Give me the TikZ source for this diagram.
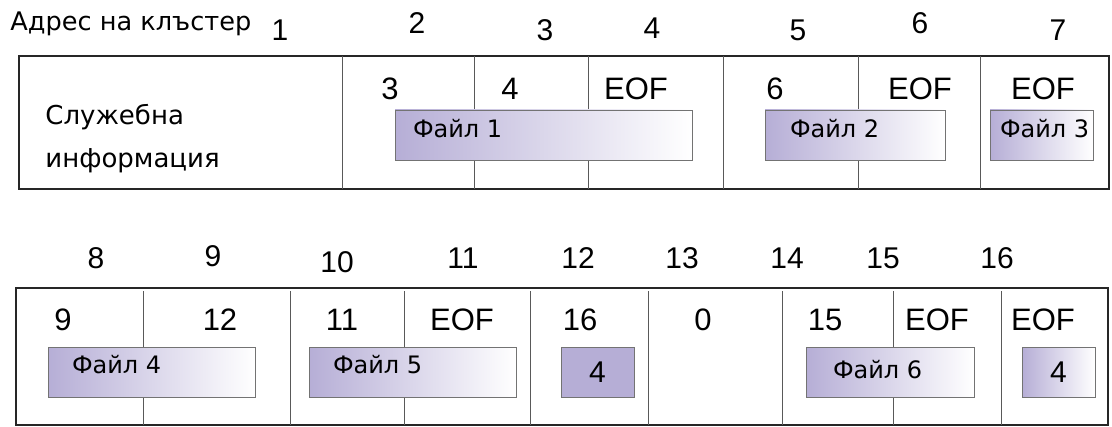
\documentclass[tikz,border=0pt]{standalone}
\usepackage{fontspec}
\setmainfont{Liberation Sans}
\newfontfamily\cyrfont{DejaVu Sans}
\usepackage{tikz}
\usetikzlibrary{positioning}
\definecolor{lavender}{RGB}{182,174,214}
\tikzstyle{frame}=[draw=black!85,line width=1pt]
\tikzstyle{divider}=[draw=black!65,line width=0.5pt]
\tikzstyle{addr}=[font=\fontsize{15}{17}\selectfont,inner sep=0pt]
\tikzstyle{link}=[font=\fontsize{15.5}{18}\selectfont,inner sep=0pt]
\tikzstyle{file box}=[draw=black!55,line width=0.4pt,left color=lavender,right color=white,minimum height=25pt,inner sep=0pt]
\tikzstyle{plain box}=[draw=black!55,line width=0.4pt,fill=lavender,minimum height=25pt,inner sep=0pt]
\tikzstyle{file name}=[font=\cyrfont\fontsize{12}{14}\selectfont,inner sep=0pt,anchor=west]

\begin{document}
\begin{tikzpicture}[x=0.5pt,y=-0.5pt]
        \useasboundingbox (0,0) rectangle (1112,427);
        % cluster addresses, first table
        \node[font=\cyrfont\fontsize{12.8}{15}\selectfont,anchor=west,inner sep=0pt] (title) at (10,24) {Адрес на клъстер};
        \node[addr] (a1) at (280,30) {1};
        \node[addr] (a2) at (417,23) {2};
        \node[addr] (a3) at (545,30) {3};
        \node[addr] (a4) at (652,28) {4};
        \node[addr] (a5) at (798,30) {5};
        \node[addr] (a6) at (920,23) {6};
        \node[addr] (a7) at (1058,30) {7};
        % first table
        \draw[frame] (19,56) rectangle (1109,189);
        \draw[divider] (342,56) -- (342,189);
        \draw[divider] (474,56) -- (474,189);
        \draw[divider] (588,56) -- (588,189);
        \draw[divider] (723,56) -- (723,189);
        \draw[divider] (858,56) -- (858,189);
        \draw[divider] (980,56) -- (980,189);
        \node[font=\cyrfont\fontsize{13}{21.5}\selectfont,align=left,anchor=west,inner sep=0pt] (sys) at (45,139) {Служебна\\информация};
        \node[link] (l2) at (390,89) {3};
        \node[link] (l3) at (510,89) {4};
        \node[link] (l4) at (636,89) {EOF};
        \node[link] (l5) at (775,89) {6};
        \node[link] (l6) at (920,89) {EOF};
        \node[link] (l7) at (1043,89) {EOF};
        \node[file box,minimum width=148.5pt] (f1) at (543.5,135) {};
        \node[file name] at ([xshift=9pt,yshift=3pt]f1.west) {Файл 1};
        \node[file box,minimum width=90pt] (f2) at (855,135) {};
        \node[file name] at ([xshift=12.5pt,yshift=3pt]f2.west) {Файл 2};
        \node[file box,minimum width=51.5pt] (f3) at (1041.5,135) {};
        \node[file name] at ([xshift=5pt,yshift=3pt]f3.west) {Файл 3};
        % cluster addresses, second table
        \node[addr] (a8) at (96,258) {8};
        \node[addr] (a9) at (213,256) {9};
        \node[addr] (a10) at (337,262) {10};
        \node[addr] (a11) at (463,258) {11};
        \node[addr] (a12) at (578,258) {12};
        \node[addr] (a13) at (682,258) {13};
        \node[addr] (a14) at (787,258) {14};
        \node[addr] (a15) at (883,258) {15};
        \node[addr] (a16) at (997,258) {16};
        % second table
        \draw[frame] (16,288) rectangle (1108,425);
        \draw[divider] (143,291) -- (143,425);
        \draw[divider] (290,291) -- (290,425);
        \draw[divider] (404,291) -- (404,425);
        \draw[divider] (530,291) -- (530,425);
        \draw[divider] (648,291) -- (648,425);
        \draw[divider] (782,291) -- (782,425);
        \draw[divider] (893,291) -- (893,425);
        \draw[divider] (1001,291) -- (1001,425);
        \node[link] (l8) at (63,320) {9};
        \node[link] (l9) at (220,320) {12};
        \node[link] (l10) at (342,320) {11};
        \node[link] (l11) at (462,320) {EOF};
        \node[link] (l12) at (580,320) {16};
        \node[link] (l13) at (703,320) {0};
        \node[link] (l14) at (825,320) {15};
        \node[link] (l15) at (937,320) {EOF};
        \node[link] (l16) at (1043,320) {EOF};
        \node[file box,minimum width=103.5pt] (f4) at (151.5,372) {};
        \node[file name] at ([xshift=12pt,yshift=3.5pt]f4.west) {Файл 4};
        \node[file box,minimum width=103.5pt] (f5) at (412.5,372) {};
        \node[file name] at ([xshift=12pt,yshift=3.5pt]f5.west) {Файл 5};
        \node[plain box,minimum width=36.5pt,font=\fontsize{15}{17}\selectfont] (b12) at (597.5,372) {4};
        \node[file box,minimum width=84pt] (f6) at (890,372) {};
        \node[file name] at ([xshift=13.5pt,yshift=1pt]f6.west) {Файл 6};
        \node[file box,minimum width=36.5pt,font=\fontsize{15}{17}\selectfont] (b16) at (1058.5,372) {4};
\end{tikzpicture}
\end{document}
